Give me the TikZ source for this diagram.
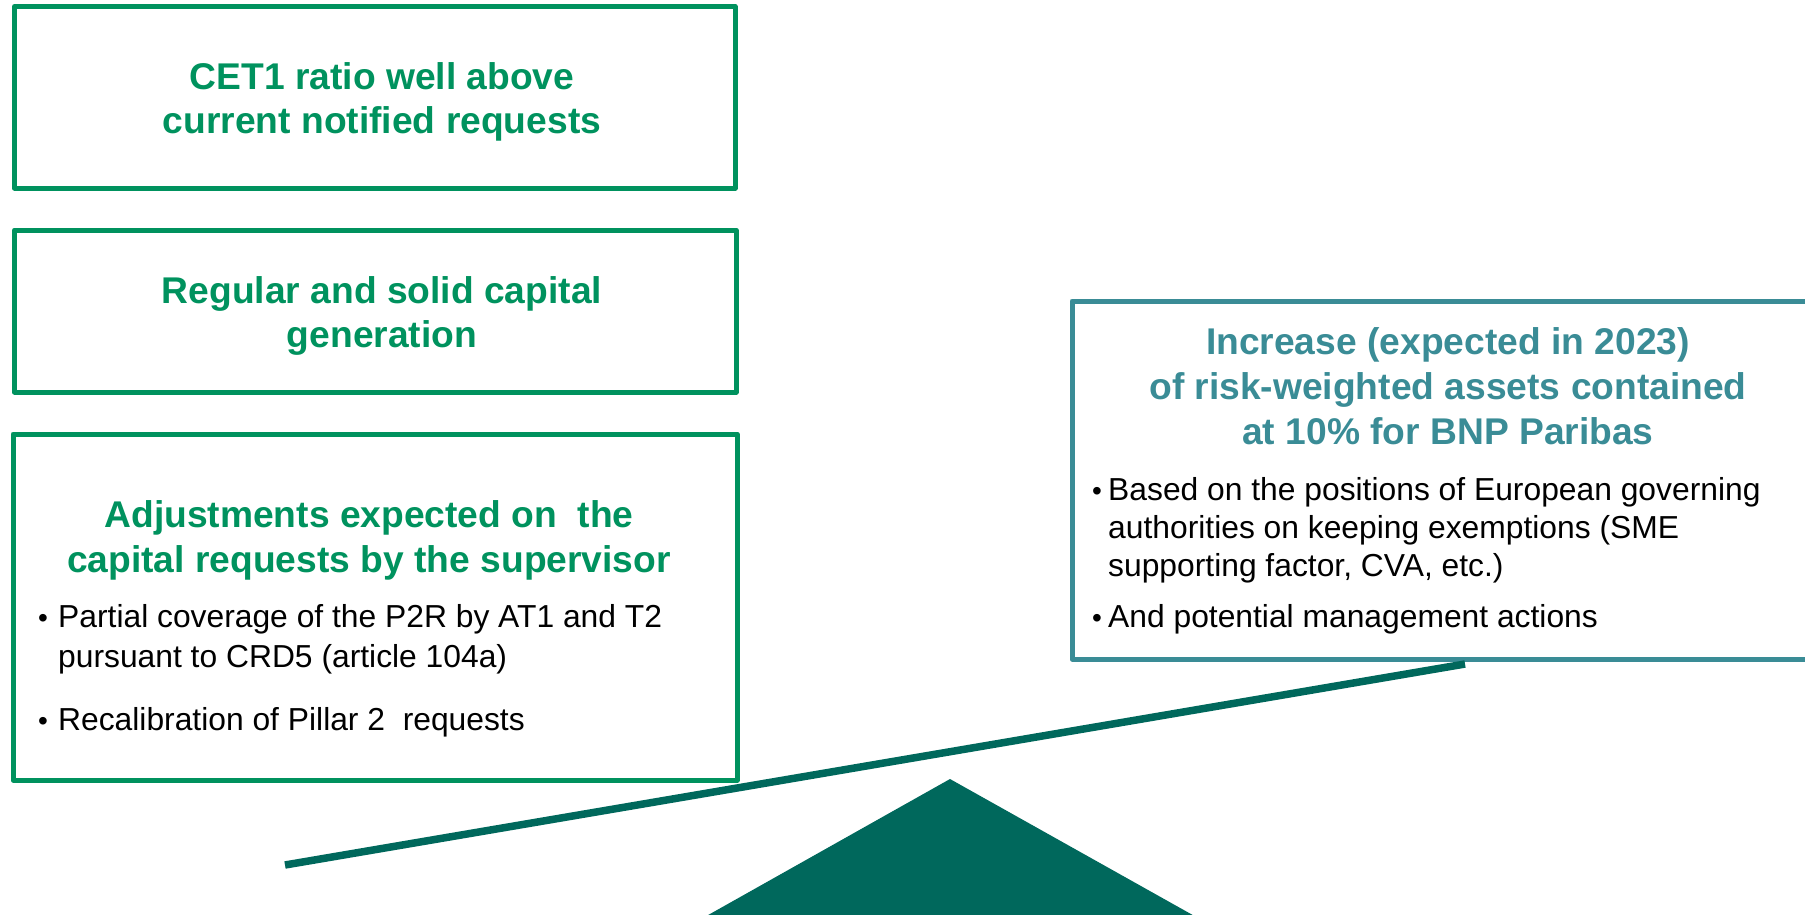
\documentclass[tikz,border=0pt]{standalone}
\usepackage{fontspec}
\setmainfont{Liberation Sans}
\definecolor{bgreen}{RGB}{0,146,94}
\definecolor{bteal}{RGB}{58,140,150}
\definecolor{bdark}{RGB}{0,104,92}
\tikzset{
  gbox/.style={draw=bgreen, line width=5pt, line join=round, inner sep=0pt, outer sep=0pt},
  tbox/.style={draw=bteal, line width=5pt, line join=round, inner sep=0pt, outer sep=0pt},
  gtitle/.style={text=bgreen, font=\fontsize{37.2}{44}\selectfont\bfseries, anchor=base, inner sep=0pt},
  ttitle/.style={text=bteal, font=\fontsize{37.2}{44}\selectfont\bfseries, anchor=base, inner sep=0pt},
  btxt/.style={font=\fontsize{31.8}{38}\selectfont, anchor=base west, inner sep=0pt},
  bul/.style={font=\fontsize{28}{38}\selectfont, anchor=base, inner sep=0pt},
  beam/.style={draw=bdark, line width=7.5pt},
  pivot/.style={fill=bdark, draw=none}
}
\begin{document}
\begin{tikzpicture}[x=1pt,y=-1pt]
\useasboundingbox (0,0) rectangle (1805,914);
\begin{scope}
\clip (0,0) rectangle (1805,914);
% boxes
\node[gbox, minimum width=720.5pt, minimum height=181.5pt] (box1) at (374.75,97.25) {};
\node[gbox, minimum width=721.5pt, minimum height=162pt] (box2) at (375.25,311) {};
\node[gbox, minimum width=724pt, minimum height=346pt] (box3) at (375,607) {};
\node[tbox, minimum width=750pt, minimum height=358pt] (box4) at (1447,480) {};
% balance
\coordinate (beamL) at (285,865);
\coordinate (beamR) at (1465,664);
\draw[beam] (beamL) -- (beamR);
\coordinate (apex) at (950,779);
\coordinate (baseL) at (674.4,934);
\coordinate (baseR) at (1226.6,934);
\fill[pivot] (apex) -- (baseR) -- (baseL) -- cycle;
\end{scope}
% box 1
\node[gtitle] (t1a) at (382,89) {CET1 ratio well above};
\node[gtitle] (t1b) at (382,133) {current notified requests};
% box 2
\node[gtitle] (t2a) at (382,303) {Regular and solid capital};
\node[gtitle] (t2b) at (382,347) {generation};
% box 3
\node[gtitle] (t3a) at (369,527) {Adjustments expected on\ \ the};
\node[gtitle] (t3b) at (369,572) {capital requests by the supervisor};
\node[bul] (d3a) at (43,627) {•};
\node[btxt] (l3a) at (58,627) {Partial coverage of the P2R by AT1 and T2};
\node[btxt] (l3b) at (58,667) {pursuant to CRD5 (article 104a)};
\node[bul] (d3b) at (43,730) {•};
\node[btxt] (l3c) at (58,730) {Recalibration of Pillar 2\ \ requests};
% right box
\node[ttitle] (t4a) at (1448,354) {Increase (expected in 2023)};
\node[ttitle] (t4b) at (1448,399) {of risk-weighted assets contained};
\node[ttitle] (t4c) at (1448,444) {at 10\% for BNP Paribas};
\node[bul] (d4a) at (1097,500) {•};
\node[btxt] (l4a) at (1108,500) {Based on the positions of European governing};
\node[btxt] (l4b) at (1108,538) {authorities on keeping exemptions (SME};
\node[btxt] (l4c) at (1108,576) {supporting factor, CVA, etc.)};
\node[bul] (d4b) at (1097,627) {•};
\node[btxt] (l4d) at (1108,627) {And potential management actions};
\end{tikzpicture}
\end{document}
